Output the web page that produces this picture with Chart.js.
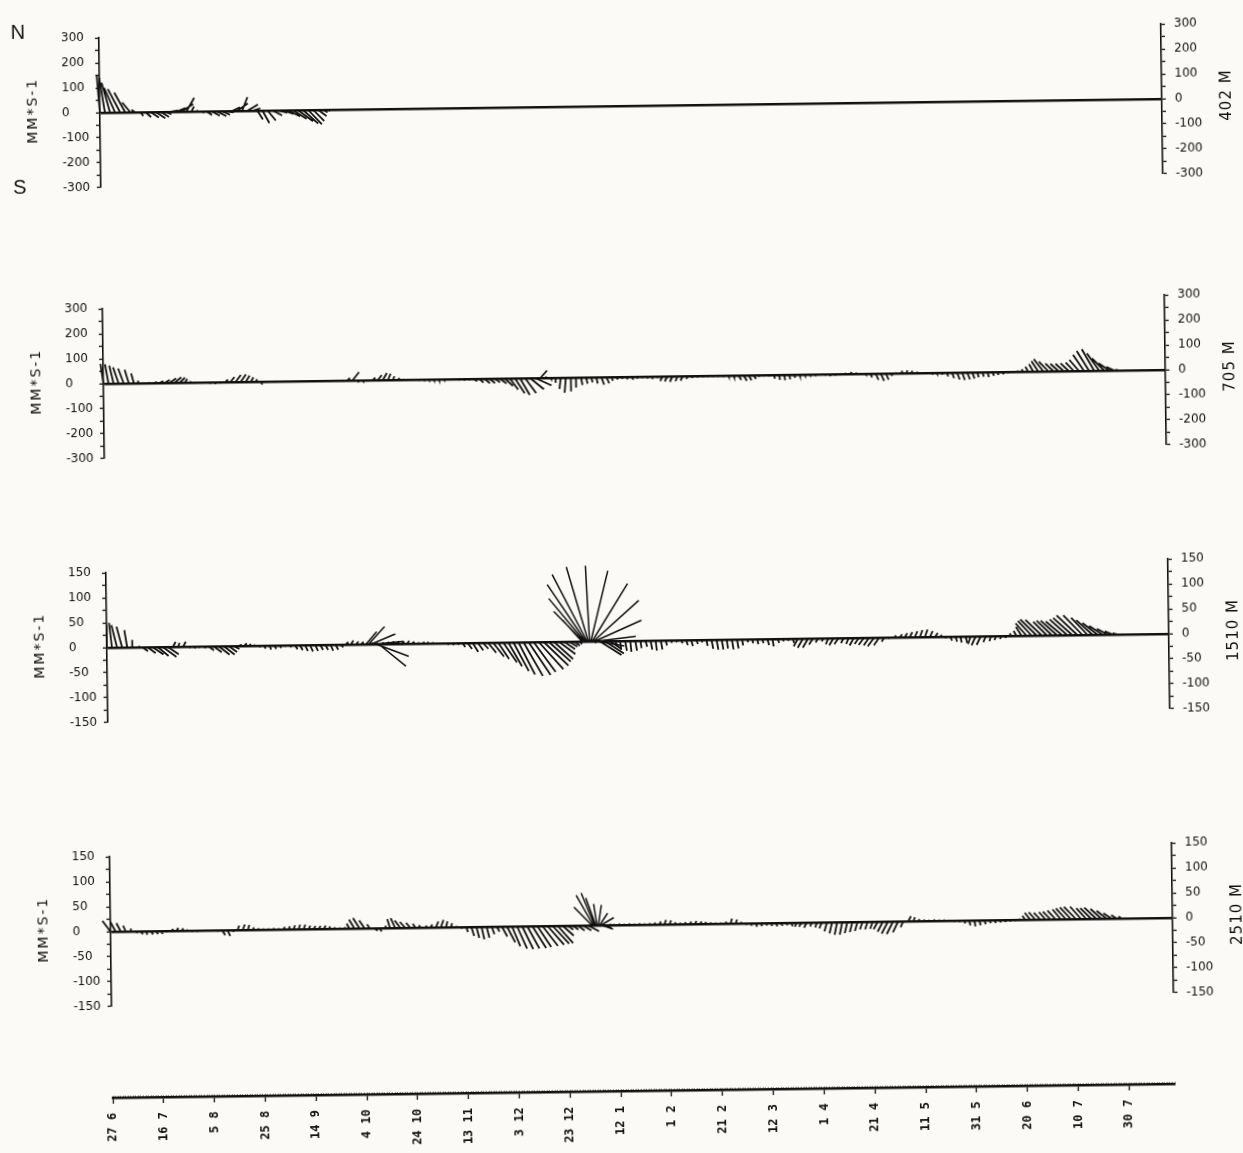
<!doctype html>
<html lang="en">
<head>
<meta charset="UTF-8">
<title>Current vectors 402-2510 M</title>
<script src="https://cdn.jsdelivr.net/npm/chart.js@4.4.1/dist/chart.umd.min.js"></script>
<style>
	body { margin: 0; background: #fcfaf6; overflow: hidden; }
	#sheet { position: relative; width: 1243px; height: 1153px; transform: rotate(-0.75deg); transform-origin: 50% 50%; }
	#sheet canvas { position: absolute; left: 0; }
</style>
</head>
<body>
<div id="sheet">
	<canvas id="c402" width="1243" height="182"></canvas>
	<canvas id="c705" width="1243" height="182"></canvas>
	<canvas id="c1510" width="1243" height="182"></canvas>
	<canvas id="c2510" width="1243" height="182"></canvas>
	<canvas id="ctime" width="1243" height="90"></canvas>
</div>
<script>
// ---- data: east / north components in mm/s, one stick every 2 days from 27 6 ----
const dateLabels = ['27 6', '16 7', '5 8', '25 8', '14 9', '4 10', '24 10', '13 11', '3 12', '23 12', '12 1',
	'1 2', '21 2', '12 3', '1 4', '21 4', '11 5', '31 5', '20 6', '10 7', '30 7'];

const east402 = [-10, -20, -30, -40, -45, -40, -30, -15, 10, 20, 30, 35, 30, 20, 25, 35, 45, 30, 10, 5,
	10, 20, 30, 35, 30, 25, 30, 40, 20, 40, 30, 20, 25, 30, 35, 35, 40, 45, 50, 55,
	55, 50, 40, 30, 15, 5];
const north402 = [150, 140, 120, 100, 95, 80, 40, 10, -15, -20, -22, -25, -20, -10, 5, 15, 30, 55, 20, 5,
	-5, -15, -18, -20, -15, -5, 15, 30, 55, 25, 10, -35, -50, -40, -20, -10, -15, -25, -35, -45,
	-55, -58, -45, -25, -10, -5];

const east705 = [
	-10, -12, -15, -20, -20, -15, -10, -5, 3, 3,
	10, 15, 20, 25, 25, 20, 10, 5, 3, 2,
	2, 0, 0, 2, 10, 15, 20, 20, 15, 10,
	5, 5, 3, 2, 2, 2, 2, 2, 2, 2,
	2, 2, 2, 2, 2, 2, 2, 2, 10, 25,
	5, 3, 3, 10, 15, 15, 10, 5, 5, 3,
	2, 2, 2, 2, 2, 2, 2, 2, 2, 2,
	2, 3, 3, 10, 15, 20, 20, 20, 25, 30,
	30, 35, 35, 40, 50, 60, 25, 5, 3, 0,
	-5, -5, 0, 0, 5, 5, 5, 5, 10, 10,
	5, 5, 3, 3, 5, 3, 3, 3, 2, 3,
	-8, -10, -10, -8, -8, -5, -3, -2, 2, 2,
	2, 2, 2, 2, 3, 10, 12, 10, 8, 3,
	2, 2, 3, 3, 3, 3, 2, 2, 2, 2,
	2, 2, 2, 2, 2, 2, 3, 5, 3, 2,
	2, 5, 10, 12, 10, 5, 3, 5, 5, 4,
	3, 2, 2, 2, 2, 3, 5, 8, 10, 10,
	10, 8, 5, 5, 5, 5, 3, 3, 2, 2,
	-3, -5, -10, -15, -25, -35, -35, -30, -30, -30,
	-30, -30, -35, -40, -45, -45, -45, -45, -40, -30,
	-15];
const north705 = [
	80, 78, 72, 65, 60, 55, 40, 10, 2, 3,
	5, 8, 12, 18, 22, 20, 15, 5, 2, 1,
	-2, -6, -8, -4, 10, 20, 28, 30, 25, 18,
	10, -12, -3, 1, 2, 1, 2, 1, 2, 1,
	2, 1, 2, 1, 2, 1, 2, 3, 10, 33,
	-8, -4, 2, 10, 20, 28, 25, 15, 8, 3,
	2, 1, -1, -2, -3, -4, -5, -3, -2, -3,
	-5, -6, -5, -10, -15, -18, -18, -15, -20, -30,
	-45, -60, -67, -60, -45, -30, 30, 5, -5, -20,
	-45, -60, -55, -40, -30, -25, -20, -25, -30, -25,
	-15, -10, -8, -10, -12, -8, -6, -8, -10, -6,
	-18, -20, -22, -20, -18, -12, -8, -6, -5, -4,
	-5, -4, -6, -5, -8, -18, -22, -20, -15, -6,
	-4, -5, -15, -20, -22, -18, -12, -6, -4, -3,
	-2, -3, -5, -8, -6, -2, 5, 8, 6, 2,
	-3, -15, -25, -30, -25, -10, 4, 10, 12, 10,
	6, 2, 1, -2, -4, -8, -15, -22, -28, -30,
	-28, -25, -20, -18, -20, -15, -12, -10, -5, -2,
	5, 10, 20, 30, 42, 50, 40, 32, 30, 30,
	32, 35, 45, 65, 80, 87, 70, 50, 30, 15,
	4];

const east1510 = [
	0, -5, -10, -10, -5, 0, 5, 10, 15, 20,
	20, 25, 20, 5, 3, 5, 5, 5, 3, 5,
	10, 15, 20, 20, 15, 10, 5, 5, 3, 2,
	2, 2, 3, 3, 3, 2, 3, 5, 5, 5,
	5, 5, 5, 5, 5, 5, 5, 5, 5, 5,
	5, 3, 3, 3, 5, 5, 5, 5, 5, 5,
	5, 5, 5, 3, 3, 2, 2, 3, 3, 3,
	5, 8, 10, 10, 10, 15, 20, 20, 25, 25,
	28, 30, 35, 40, 40, 45, 45, 40, 35, 30,
	20, 15, 10, 5, 3, 3, 3, 40, 35, 20,
	5, 2, 3, 2, 3, 2, 3, 3, 2, 3,
	2, 2, 2, 3, 3, 3, 3, 2, 2, 3,
	3, 3, 2, 3, 3, 2, 2, 2, 2, 2,
	3, 2, 3, 2, 2, 2, -8, -10, -10, -8,
	-5, -3, -5, -8, -8, -5, -5, -8, -8, -10,
	-10, -12, -10, -5, -3, 3, 5, 5, 5, 5,
	5, 5, 5, 5, 3, 2, 3, 3, 2, 3,
	-5, -8, -8, -5, -3, -3, -2, -2, -3, -5,
	-10, -20, -25, -30, -30, -25, -28, -30, -30, -32,
	-35, -38, -35, -30, -30, -28, -25, -20, -15, -10,
	-3];
const north1510 = [
	45, 50, 45, 42, 35, 15, 2, -8, -12, -15,
	-18, -20, -15, 10, 8, 10, -2, -3, -2, -3,
	-8, -12, -17, -17, -12, -6, 3, 5, 4, 2,
	-3, -6, -8, -7, -5, -2, -4, -8, -10, -12,
	-13, -12, -10, -10, -12, -10, -5, 5, 8, 6,
	5, 3, 3, 3, 3, 4, 5, 5, 5, 6,
	4, 2, 3, 3, 2, 1, -1, -3, -4, -3,
	-8, -12, -18, -15, -12, -20, -28, -33, -40, -48,
	-58, -65, -68, -66, -60, -55, -48, -40, -35, -25,
	-15, -10, -8, -5, 2, 2, -3, -28, -25, -15,
	-10, -18, -20, -22, -20, -15, -12, -18, -20, -18,
	-10, -5, -4, -6, -10, -12, -8, -5, -12, -18,
	-20, -20, -18, -20, -18, -12, -6, -8, -10, -8,
	-12, -15, -8, -5, -4, -8, -15, -18, -18, -12,
	-8, -6, -12, -14, -12, -10, -12, -15, -12, -14,
	-15, -17, -15, -8, -2, 4, 6, 8, 10, 12,
	14, 15, 12, 8, 4, -3, -8, -10, -12, -13,
	-15, -18, -17, -12, -10, -8, -6, -4, 5, 10,
	18, 25, 30, 33, 32, 28, 30, 30, 28, 32,
	35, 40, 40, 35, 30, 24, 18, 12, 7, 3,
	1];

// short events sampled every half day / day
const swirl1510Days = [102, 103, 104, 105, 106, 107];
const swirl1510East = [20, 30, 45, 55, 60, 50];
const swirl1510North = [25, 35, 20, 5, -25, -45];
const fan1510Days = [187, 187.5, 188, 188.5, 189, 189.5, 190, 190.5, 191, 191.5, 192, 192.5, 193];
const fan1510East = [-35, -54, -65, -70, -63, -39, -6, 33, 67, 85, 87, 74, 50];
const fan1510North = [43, 61, 87, 115, 135, 150, 152, 141, 115, 81, 41, 9, -10];

const east2510 = [
	-15, -10, -8, -5, 0, 3, 3, 2, 3, 3,
	2, 2, 3, 3, 3, 2, 2, 2, 2, 2,
	2, 2, 5, 5, 3, 3, 4, 3, 2, 2,
	2, 2, 2, 2, 3, 3, 3, 3, 3, 3,
	3, 3, 3, 2, 2, 2, 2, -5, -10, -12,
	-10, -5, 5, 3, 2, -5, -8, -10, -10, -8,
	-5, -3, 2, 3, 5, 5, 3, 2, 2, 2,
	3, 5, 5, 5, 5, 5, 5, 10, 15, 15,
	18, 20, 22, 25, 25, 28, 30, 30, 28, 20,
	10, 10, 12, 15, 20, 3, 3, 15, 5, 2,
	2, 2, 2, 2, 2, 2, 2, 2, 3, 3,
	3, 2, 2, 2, 3, 3, 3, 2, 2, 2,
	2, 2, 3, 3, 2, 2, 2, 2, 2, 2,
	2, 2, 2, 2, 2, -3, -5, -5, -3, -3,
	-5, -5, -5, -5, -5, -5, -5, -5, -5, -5,
	-5, -8, -10, -12, -12, -10, -5, 5, 3, 2,
	2, 2, 2, 2, 2, 2, 2, 2, 2, 2,
	2, 2, 2, 2, 2, 2, 2, 2, 2, -2,
	-5, -10, -12, -12, -12, -14, -15, -15, -18, -20,
	-22, -20, -18, -20, -22, -20, -18, -15, -10, -6,
	-3];
const north2510 = [
	22, 20, 17, 12, 6, -3, -6, -7, -7, -6,
	-6, -2, 4, 6, 5, 2, -2, -2, -1, -1,
	-1, -2, -10, -12, -3, 9, 11, 10, 5, 3,
	2, 2, 3, 2, 5, 6, 8, 9, 9, 7,
	6, 6, 7, 5, 3, 2, 3, 10, 18, 21,
	16, 8, -5, -7, 5, 18, 20, 15, 12, 10,
	8, 5, 4, 6, 12, 15, 12, 8, 2, -3,
	-10, -18, -22, -25, -22, -15, -10, -20, -32, -40,
	-45, -46, -45, -44, -42, -40, -38, -36, -35, -20,
	-8, -8, -10, -10, -12, 2, 2, -5, 2, 2,
	3, 2, 3, 2, 3, 2, 3, 4, 6, 9,
	8, 4, 3, 4, 5, 6, 5, 4, 3, 2,
	2, 4, 10, 8, 3, -3, -5, -7, -6, -5,
	-6, -7, -6, -5, -7, -8, -8, -10, -8, -10,
	-12, -18, -22, -25, -25, -22, -20, -18, -15, -15,
	-14, -15, -20, -24, -25, -22, -12, 10, 8, 4,
	3, 2, 3, 2, 2, 1, -2, -3, -6, -10,
	-12, -10, -8, -6, -6, -5, -4, -3, -2, 2,
	8, 14, 15, 14, 15, 16, 18, 20, 22, 24,
	25, 25, 22, 22, 23, 20, 16, 11, 7, 4,
	1];

const fan2510Days = [189.5, 190, 190.5, 191, 191.5, 192, 192.5, 193, 193.5];
const fan2510East = [-33, -31, -24, -18, -6, 6, 15, 24, 20];
const fan2510North = [37, 61, 65, 55, 43, 41, 24, 15, -8];

// ---- layout ----
const INK = '#111111';
const X_MAX = 418;          // days on the time axis
const AREA_LEFT = 106, AREA_RIGHT = 1168;
const PLOT_W = AREA_RIGHT - AREA_LEFT;
const PLOT_H = 162, PAD = 10;
const TICK_FONT = { family: 'DejaVu Sans', size: 12 };

// stick base on the zero line at day t, tip at (t + east, north) with equal pixel scale on both axes
function sticks(east, north, days, limit, width) {
	const k = (PLOT_H / (2 * limit)) / (PLOT_W / X_MAX);
	const pts = [];
	east.forEach((u, i) => {
		const t = days ? days[i] : i * 2;
		pts.push({ x: t, y: 0 }, { x: t + u * k, y: north[i] }, { x: t, y: null });
	});
	return { data: pts, borderColor: INK, borderWidth: width || 1.8, pointRadius: 0, spanGaps: false, clip: false, tension: 0 };
}

const panelText = {
	id: 'panelText',
	afterDraw(chart, args, opts) {
		const { ctx } = chart;
		const zero = chart.scales.y.getPixelForValue(0);
		ctx.save();
		ctx.fillStyle = INK;
		ctx.textAlign = 'center';
		ctx.textBaseline = 'middle';
		ctx.letterSpacing = '2px';
		ctx.font = '14px "DejaVu Sans"';
		ctx.save();
		ctx.translate(39, zero - 3);
		ctx.rotate(-Math.PI / 2);
		ctx.fillText('MM*S-1', 0, 0);
		ctx.restore();
		ctx.letterSpacing = '1px';
		ctx.font = '15px "DejaVu Sans"';
		ctx.save();
		ctx.translate(1233, zero - 3);
		ctx.rotate(-Math.PI / 2);
		ctx.fillText(opts.depth, 0, 0);
		ctx.restore();
		if (opts.compass) {
			ctx.letterSpacing = '0px';
			ctx.font = '20px "Liberation Sans"';
			ctx.fillText('N', 25, zero - 81);
			ctx.fillText('S', 25, zero + 74);
		}
		ctx.restore();
	}
};

function yAxis(position, limit, step, labelStep) {
	const left = position === 'left';
	return {
		position,
		min: -limit,
		max: limit,
		afterFit: s => { s.width = left ? 38 : 1243 - AREA_RIGHT; },
		ticks: {
			stepSize: step,
			autoSkip: false,
			crossAlign: left ? 'far' : 'near',
			padding: left ? 0 : 9,
			color: INK,
			font: TICK_FONT,
			callback: v => (v % labelStep === 0 ? String(v) : '')
		},
		grid: {
			drawOnChartArea: left,
			color: c => (c.tick && c.tick.value === 0 ? INK : 'rgba(0,0,0,0)'),
			lineWidth: c => (c.tick && c.tick.value === 0 ? 2.4 : 1),
			tickLength: 4,
			tickColor: INK,
			tickWidth: 1.3
		},
		border: { display: true, color: INK, width: 1.6 }
	};
}

function panelChart(id, zeroY, limit, step, labelStep, datasets, depth, compass) {
	const canvas = document.getElementById(id);
	canvas.style.top = (zeroY - PLOT_H / 2 - PAD) + 'px';
	return new Chart(canvas, {
		type: 'line',
		data: { datasets },
		plugins: [panelText],
		options: {
			responsive: false,
			animation: false,
			devicePixelRatio: 1,
			layout: { padding: { left: AREA_LEFT - 38, right: 0, top: PAD, bottom: PAD } },
			plugins: { legend: { display: false }, tooltip: { enabled: false }, panelText: { depth, compass } },
			scales: {
				x: { type: 'linear', display: false, min: 0, max: X_MAX },
				y: yAxis('left', limit, step, labelStep),
				yr: yAxis('right', limit, step, labelStep)
			}
		}
	});
}

panelChart('c402', 106, 300, 50, 100, [sticks(east402, north402, null, 300)], '402 M', true);
panelChart('c705', 377, 300, 50, 100, [sticks(east705, north705, null, 300)], '705 M', false);
panelChart('c1510', 641, 150, 25, 50, [
	sticks(east1510, north1510, null, 150),
	sticks(swirl1510East, swirl1510North, swirl1510Days, 150, 1.5),
	sticks(fan1510East, fan1510North, fan1510Days, 150, 1.5)
], '1510 M', false);
panelChart('c2510', 925, 150, 25, 50, [
	sticks(east2510, north2510, null, 150),
	sticks(fan2510East, fan2510North, fan2510Days, 150, 1.5)
], '2510 M', false);

// ---- time axis: a day ruler with a date every 20 days ----
const AXIS_Y = 1091;
const timeCanvas = document.getElementById('ctime');
timeCanvas.style.top = (AXIS_Y - 6) + 'px';
new Chart(timeCanvas, {
	type: 'line',
	data: { datasets: [] },
	options: {
		responsive: false,
		animation: false,
		devicePixelRatio: 1,
		layout: { padding: { left: AREA_LEFT, right: 1243 - AREA_RIGHT, top: 4, bottom: 0 } },
		plugins: { legend: { display: false }, tooltip: { enabled: false } },
		scales: {
			y: { display: false, min: 0, max: 1 },
			x: {
				type: 'linear',
				position: 'bottom',
				min: 0,
				max: X_MAX,
				afterFit: s => { s.height = 84; },
				afterBuildTicks: s => {
					const ticks = [];
					for (let d = 0; d <= X_MAX; d++) ticks.push({ value: d });
					s.ticks = ticks;
				},
				ticks: {
					autoSkip: false,
					minRotation: 90,
					maxRotation: 90,
					padding: 9,
					color: INK,
					font: { family: 'DejaVu Sans Mono', size: 12, weight: 'bold' },
					callback: v => (v % 20 === 0 && dateLabels[v / 20] ? dateLabels[v / 20] : '')
				},
				grid: {
					drawOnChartArea: true,
					color: INK,
					lineWidth: 0.6,
					tickLength: 6,
					tickWidth: 1.3,
					tickColor: c => (c.tick && c.tick.value % 20 === 0 ? INK : 'rgba(0,0,0,0)')
				},
				border: { display: true, color: INK, width: 2.4 }
			}
		}
	}
});
</script>
</body>
</html>
